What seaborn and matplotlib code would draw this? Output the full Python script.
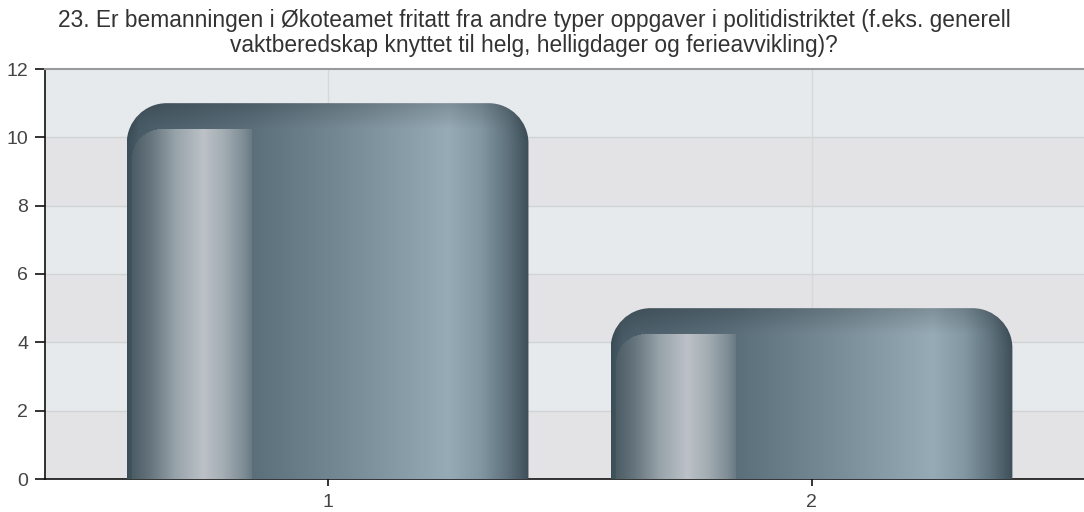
import numpy as np
import matplotlib
matplotlib.use("Agg")
import matplotlib.pyplot as plt
import seaborn as sns
from matplotlib.path import Path
from matplotlib.patches import PathPatch

categories = ["1", "2"]
values = [11, 5]
yticks = [0, 2, 4, 6, 8, 10, 12]
title_text = ("23. Er bemanningen i Økoteamet fritatt fra andre typer oppgaver i politidistriktet (f.eks. generell\n"
              "vaktberedskap knyttet til helg, helligdager og ferieavvikling)?")

sns.set_theme(style="white")
plt.rcParams['font.family'] = ['Liberation Sans', 'DejaVu Sans']

W, H = 1084, 512
fig = plt.figure(figsize=(W / 100, H / 100), dpi=100)
ax = fig.add_axes([45 / W, 1 - 479 / H, 1 - 45 / W, (479 - 69) / H])

sns.barplot(x=categories, y=values, width=0.83, color="#607480", ax=ax, zorder=3)
bars = list(ax.patches)
ax.set_xlim(-0.584, 1.563)
ax.set_ylim(0, 12)
ax.set_yticks(yticks)

# alternating background bands
for i, (lo, hi) in enumerate(zip(yticks[:-1], yticks[1:])):
    ax.axhspan(lo, hi, color="#e3e3e5" if i % 2 == 0 else "#e6eaed", zorder=0, lw=0)
for y in yticks[1:-1]:
    ax.axhline(y, color="#d2d3d5", lw=1, zorder=1)
for x in range(len(categories)):
    ax.axvline(x, color="#d6d8da", lw=1, zorder=1)

fig.canvas.draw()

def hexrgb(h):
    h = h.lstrip('#')
    return np.array([int(h[i:i + 2], 16) for i in (0, 2, 4)]) / 255.0

def grad(stops, fx):
    xs = [s[0] for s in stops]
    cols = np.array([hexrgb(s[1]) for s in stops])
    return np.stack([np.interp(fx, xs, cols[:, k]) for k in range(3)], axis=-1)

base_stops = [(0.0, "#3b4d57"), (0.03, "#4a5d68"), (0.31, "#5b6f7b"), (0.55, "#778b96"),
              (0.80, "#97abb6"), (0.88, "#8297a2"), (0.95, "#5d707b"), (1.0, "#3d4e58")]
hl_stops = [(0.0, "#45565f"), (0.06, "#66757e"), (0.12, "#97a2a9"), (0.19, "#bcc2c7"),
            (0.24, "#a3adb3"), (0.29, "#7f8d95"), (0.31, "#6a7b85")]

radius_px = 40
for patch in bars:
    x0, y0 = patch.get_x(), patch.get_y()
    bw, bh = patch.get_width(), patch.get_height()
    patch.set_visible(False)
    (px0, py0) = ax.transData.transform((x0, y0))
    (px1, py1) = ax.transData.transform((x0 + bw, y0 + bh))
    wpx, hpx = int(round(px1 - px0)), int(round(py1 - py0))
    fx = (np.arange(wpx) + 0.5) / wpx
    img = np.tile(grad(base_stops, fx)[None, :, :], (hpx, 1, 1))
    yy, xx = np.mgrid[0:hpx, 0:wpx].astype(float) + 0.5
    r = radius_px
    shade_amt = 0.16 * np.clip(1 - yy / 26.0, 0, 1)
    for cx in (r, wpx - r):
        m = (np.abs(xx - cx) > 0) & (yy < r) & (((cx == r) & (xx < r)) | ((cx != r) & (xx > wpx - r)))
        dc = r - np.hypot(xx[m] - cx, yy[m] - r)
        wgt = np.clip((r - yy[m]) / r, 0, 1)
        shade_amt[m] = np.maximum(shade_amt[m], 0.16 * np.clip(1 - dc / 26.0, 0, 1) * wgt)
    img = img * (1 - shade_amt)[:, :, None]
    # highlight overlay
    hx0, hx1 = 0.0125 * wpx, 0.31 * wpx
    htop = 26.0
    hr = 30.0
    inside = (xx >= hx0) & (xx <= hx1) & (yy >= htop)
    corner = (xx < hx0 + hr) & (yy < htop + hr)
    outside_corner = corner & (np.hypot(xx - (hx0 + hr), yy - (htop + hr)) > hr)
    inside &= ~outside_corner
    hl = grad(hl_stops, xx / wpx)
    img[inside] = hl[inside]
    img = np.clip(img, 0, 1)

    rx = bw * r / wpx
    ry = bh * r / hpx
    k = 0.5523
    xa, xb = x0, x0 + bw
    yt = y0 + bh
    verts = [(xa, y0), (xa, yt - ry),
             (xa, yt - ry + k * ry), (xa + rx - k * rx, yt), (xa + rx, yt),
             (xb - rx, yt),
             (xb - rx + k * rx, yt), (xb, yt - ry + k * ry), (xb, yt - ry),
             (xb, y0), (xa, y0)]
    codes = [Path.MOVETO, Path.LINETO, Path.CURVE4, Path.CURVE4, Path.CURVE4,
             Path.LINETO, Path.CURVE4, Path.CURVE4, Path.CURVE4, Path.LINETO, Path.CLOSEPOLY]
    clip = PathPatch(Path(verts, codes), transform=ax.transData, facecolor="none", edgecolor="none")
    ax.add_patch(clip)
    im = ax.imshow(img, extent=(xa, xb, y0, yt), aspect="auto", origin="upper",
                   zorder=3, interpolation="bilinear")
    im.set_clip_path(clip)

ax.set_xlim(-0.584, 1.563)
ax.set_ylim(0, 12)

ax.spines["right"].set_visible(False)
ax.spines["top"].set_color("#9a9a9a")
ax.spines["top"].set_linewidth(1.5)
ax.spines["left"].set_color("#111111")
ax.spines["bottom"].set_color("#111111")
ax.spines["left"].set_linewidth(1.2)
ax.spines["bottom"].set_linewidth(1.2)
ax.tick_params(axis="y", length=7, width=1.2, color="#111111", labelsize=14, labelcolor="#444444", pad=5, left=True)
ax.tick_params(axis="x", length=5, width=1.2, color="#111111", labelsize=14, labelcolor="#444444", pad=6, bottom=True)
ax.set_xlabel("")
ax.set_ylabel("")

fig.text(534 / W, 1 - 9 / H, title_text, ha="center", va="top", fontsize=16.4,
         color="#333333", linespacing=1.1)

fig.savefig("out.png", dpi=100)
